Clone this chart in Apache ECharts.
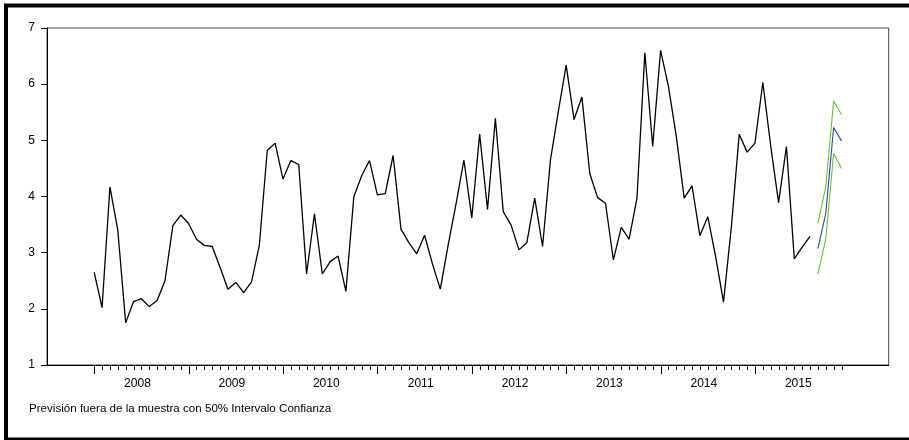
<!DOCTYPE html>
<html lang="es">

<head>
  <meta charset="UTF-8">
  <title>Previsión</title>
  <script src="https://cdn.jsdelivr.net/npm/echarts@6/dist/echarts.min.js"></script>
  <style>
    html,
    body {
      margin: 0;
      padding: 0;
      width: 100%;
      height: 100%;
      background: #fff;
    }

    #chart {
      width: 909px;
      height: 440px;
    }
  </style>
</head>

<body>
  <div id="chart"></div>

  <script>
    // meses desde 2008M01 (indice 0) hasta 2015M12 (indice 95)
    const years = ['2008', '2009', '2010', '2011', '2012', '2013', '2014', '2015'];
    const nMonths = 96;

    // serie observada 2008M01 - 2015M08
    const actual = [
      2.65, 2.02, 4.17, 3.40, 1.75, 2.13, 2.18, 2.04, 2.15, 2.50, 3.48, 3.67,
      3.52, 3.24, 3.13, 3.11, 2.74, 2.35, 2.47, 2.29, 2.48, 3.14, 4.82, 4.95,
      4.31, 4.64, 4.57, 2.62, 3.69, 2.62, 2.84, 2.94, 2.31, 3.99, 4.37, 4.64,
      4.03, 4.05, 4.73, 3.42, 3.18, 2.98, 3.31, 2.80, 2.35, 3.14, 3.87, 4.65,
      3.62, 5.11, 3.77, 5.39, 3.73, 3.49, 3.05, 3.18, 3.97, 3.11, 4.65, 5.51,
      6.34, 5.37, 5.77, 4.41, 3.98, 3.88, 2.87, 3.45, 3.24, 3.97, 6.56, 4.89,
      6.60, 5.96, 5.07, 3.97, 4.19, 3.30, 3.64, 2.93, 2.12, 3.46, 5.11, 4.79,
      4.95, 6.03, 4.90, 3.89, 4.89, 2.89, 3.10, 3.29
    ];

    // prevision 2015M09 - 2015M12 con banda al 50%
    const forecastStart = 92;
    const forecast = [3.07, 3.70, 5.23, 4.99];
    const upper = [3.52, 4.17, 5.70, 5.46];
    const lower = [2.62, 3.24, 4.77, 4.50];

    const font = '"Liberation Sans", Arial, sans-serif';

    function toPoints(values, start) {
      return values.map((v, i) => [start + i, v]);
    }

    // ticks mensuales y etiquetas de año centradas
    const tickData = [];
    for (let i = 0; i < nMonths; i++) tickData.push([i, 1]);
    const yearLabelData = years.map((y, k) => [k * 12 + 5.5, 1, k]);

    const chart = echarts.init(document.getElementById('chart'), null, {
      renderer: 'canvas'
    });

    const option = {
      animation: false,
      backgroundColor: '#fff',
      title: {
        text: 'Previsión fuera de la muestra con 50% Intervalo Confianza',
        left: 29,
        top: 403,
        padding: 0,
        textStyle: {
          fontFamily: font,
          fontSize: 11.6,
          fontWeight: 'normal',
          color: '#000'
        }
      },
      graphic: [{
        type: 'rect',
        shape: { x: 6, y: 5.5, width: 905, height: 434 },
        style: { fill: 'none', stroke: '#000', lineWidth: 4 },
        silent: true
      }],
      grid: {
        left: 47,
        top: 28,
        right: 20.3,
        bottom: 75,
        show: true,
        borderColor: '#444',
        borderWidth: 1
      },
      xAxis: {
        type: 'value',
        min: -6,
        max: 101,
        axisLine: { show: true, onZero: false, lineStyle: { color: '#000', width: 1 } },
        axisTick: { show: false },
        axisLabel: { show: false },
        splitLine: { show: false }
      },
      yAxis: {
        type: 'value',
        min: 1,
        max: 7,
        interval: 1,
        axisLine: { show: true, onZero: false, lineStyle: { color: '#000', width: 1 } },
        axisTick: { show: true, inside: false, length: 6, lineStyle: { color: '#000' } },
        axisLabel: {
          margin: 12,
          color: '#000',
          fontFamily: font,
          fontSize: 12
        },
        splitLine: { show: false }
      },
      series: [{
          type: 'line',
          data: toPoints(actual, 0),
          showSymbol: false,
          lineStyle: { color: '#000', width: 1.3 },
          z: 3
        },
        {
          type: 'line',
          data: toPoints(upper, forecastStart),
          showSymbol: false,
          lineStyle: { color: '#66c23a', width: 1.1 }
        },
        {
          type: 'line',
          data: toPoints(lower, forecastStart),
          showSymbol: false,
          lineStyle: { color: '#66c23a', width: 1.1 }
        },
        {
          type: 'line',
          data: toPoints(forecast, forecastStart),
          showSymbol: false,
          lineStyle: { color: '#2a48b0', width: 1.1 }
        },
        {
          // ticks del eje x: mayor en enero, menor cada mes
          type: 'custom',
          data: tickData,
          clip: false,
          silent: true,
          renderItem: function (params, api) {
            const i = api.value(0);
            const p = api.coord([i, api.value(1)]);
            const len = i % 12 === 0 ? 9 : 5;
            return {
              type: 'line',
              shape: { x1: Math.round(p[0]) + 0.5, y1: p[1], x2: Math.round(p[0]) + 0.5, y2: p[1] + len },
              style: { stroke: '#000', lineWidth: 1 }
            };
          }
        },
        {
          type: 'custom',
          data: yearLabelData,
          clip: false,
          silent: true,
          renderItem: function (params, api) {
            const p = api.coord([api.value(0), api.value(1)]);
            return {
              type: 'text',
              x: p[0],
              y: p[1] + 19,
              style: {
                text: years[api.value(2)],
                align: 'center',
                verticalAlign: 'middle',
                fill: '#000',
                font: '12px ' + font
              }
            };
          }
        }
      ]
    };

    chart.setOption(option);
  </script>
</body>

</html>
